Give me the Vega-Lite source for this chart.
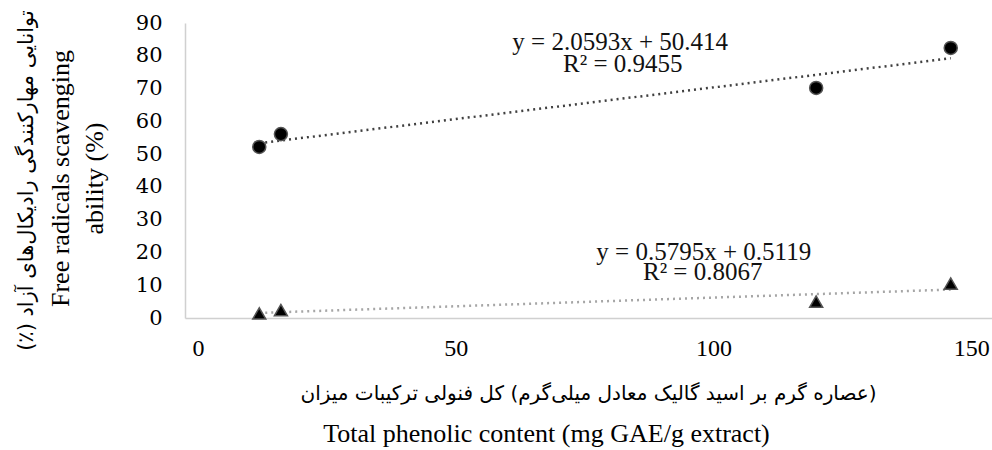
{
  "$schema": "https://vega.github.io/schema/vega-lite/v6.json",
  "width": 807,
  "height": 295,
  "autosize": {"type": "none"},
  "padding": {"left": 185, "top": 23, "right": 0, "bottom": 132},
  "background": "white",
  "config": {"view": {"stroke": null}, "font": "Liberation Serif"},
  "datasets": {
    "points": [
      {"series": "series1", "x": 11.9, "y": 52.2},
      {"series": "series1", "x": 16.1, "y": 56.1},
      {"series": "series1", "x": 119.9, "y": 70.2},
      {"series": "series1", "x": 146.0, "y": 82.4},
      {"series": "series2", "x": 11.9, "y": 1.4},
      {"series": "series2", "x": 16.1, "y": 2.4},
      {"series": "series2", "x": 119.9, "y": 5.0},
      {"series": "series2", "x": 146.0, "y": 10.5}
    ],
    "eq": [
      {"x": 81.9, "y": 84.2, "label": "y = 2.0593x + 50.414"},
      {"x": 82.4, "y": 77.5, "label": "R² = 0.9455"},
      {"x": 98.1, "y": 20.1, "label": "y = 0.5795x  + 0.5119"},
      {"x": 97.9, "y": 14.0, "label": "R² = 0.8067"}
    ]
  },
  "resolve": {"axis": {"x": "independent", "y": "independent"}},
  "layer": [
    {
      "data": {"name": "points"},
      "transform": [{"regression": "y", "on": "x", "groupby": ["series"]}],
      "mark": {"type": "line", "strokeDash": [2, 4], "strokeWidth": 2.5},
      "encoding": {
        "x": {
          "field": "x",
          "type": "quantitative",
          "scale": {"domain": [-2.5, 154], "nice": false, "zero": false},
          "axis": {
            "orient": "bottom",
            "values": [0, 50, 100, 150],
            "grid": false,
            "ticks": false,
            "domainColor": "#d0d0d0",
            "domainWidth": 1.5,
            "labelFontSize": 24,
            "labelFont": "Liberation Serif",
            "labelColor": "#000",
            "labelPadding": 18,
            "labelFlush": false,
            "labelOverlap": false,
            "title": "Total phenolic content (mg GAE/g extract)",
            "titleFont": "Liberation Serif",
            "titleFontSize": 26,
            "titleFontWeight": "normal",
            "titleColor": "#000",
            "titleX": 361,
            "titleY": 115,
            "titleAlign": "center",
            "titleBaseline": "middle"
          }
        },
        "y": {
          "field": "y",
          "type": "quantitative",
          "scale": {"domain": [0, 90], "nice": false},
          "axis": {
            "orient": "left",
            "values": [0, 10, 20, 30, 40, 50, 60, 70, 80, 90],
            "grid": false,
            "ticks": false,
            "domainColor": "#d0d0d0",
            "domainWidth": 1.5,
            "labelFontSize": 21,
            "labelFont": "DejaVu Serif",
            "labelColor": "#000",
            "labelPadding": 23,
            "labelFlush": false,
            "labelOverlap": false,
            "title": ["Free radicals scavenging", "ability (%)"],
            "titleFont": "Liberation Serif",
            "titleFontSize": 26,
            "titleFontWeight": "normal",
            "titleColor": "#000",
            "titleAngle": -90,
            "titleX": -138,
            "titleY": 155,
            "titleAlign": "center",
            "titleBaseline": "top",
            "titleLineHeight": 34
          }
        },
        "color": {
          "field": "series",
          "type": "nominal",
          "scale": {"domain": ["series1", "series2"], "range": ["#404040", "#a6a6a6"]},
          "legend": null
        }
      }
    },
    {
      "data": {"name": "points"},
      "mark": {"type": "point", "filled": true, "opacity": 1, "size": 170, "stroke": "#555", "strokeWidth": 1.5, "color": "#000"},
      "encoding": {
        "x": {
          "field": "x",
          "type": "quantitative",
          "axis": {
            "orient": "bottom",
            "labels": false,
            "ticks": false,
            "domain": false,
            "grid": false,
            "title": "\u200f(عصاره گرم بر اسید گالیک معادل میلی‌گرم) کل فنولی ترکیبات میزان\u200f",
            "titleFont": "DejaVu Sans",
            "titleFontSize": 20,
            "titleFontWeight": "normal",
            "titleColor": "#000",
            "titleX": 403,
            "titleY": 75,
            "titleAlign": "center",
            "titleBaseline": "middle"
          }
        },
        "y": {
          "field": "y",
          "type": "quantitative",
          "axis": {
            "orient": "left",
            "labels": false,
            "ticks": false,
            "domain": false,
            "grid": false,
            "title": "توانایی مهارکنندگی رادیکال‌های آزاد (٪)\u200f",
            "titleFont": "DejaVu Sans",
            "titleFontSize": 21,
            "titleFontWeight": "normal",
            "titleColor": "#000",
            "titleAngle": -90,
            "titleX": -159,
            "titleY": 157,
            "titleAlign": "center",
            "titleBaseline": "middle"
          }
        },
        "shape": {
          "field": "series",
          "type": "nominal",
          "scale": {"domain": ["series1", "series2"], "range": ["circle", "triangle-up"]},
          "legend": null
        }
      }
    },
    {
      "data": {"name": "eq"},
      "mark": {"type": "text", "fontSize": 25, "font": "Liberation Serif", "color": "#111", "align": "center", "baseline": "middle"},
      "encoding": {
        "x": {"field": "x", "type": "quantitative", "axis": null},
        "y": {"field": "y", "type": "quantitative", "axis": null},
        "text": {"field": "label", "type": "nominal"}
      }
    }
  ]
}
